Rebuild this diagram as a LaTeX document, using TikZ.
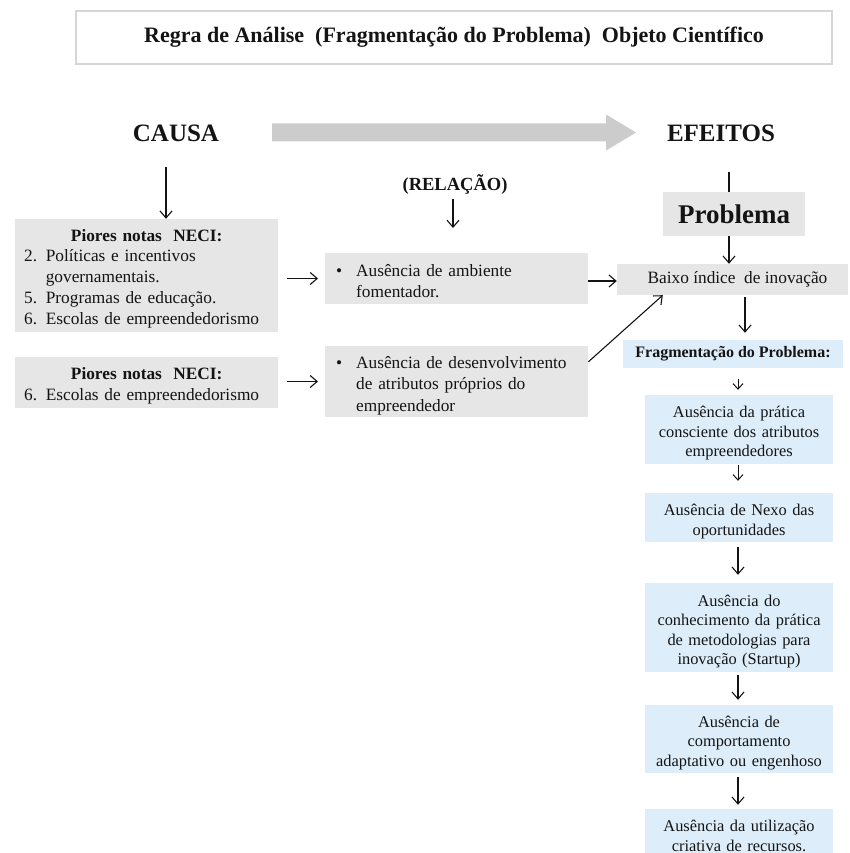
\documentclass[tikz,border=0pt]{standalone}
\usepackage{fontspec}
\setmainfont{Liberation Serif}
\usetikzlibrary{arrows.meta}

\definecolor{boxgray}{HTML}{E6E6E6}
\definecolor{boxblue}{HTML}{DDEEFA}
\definecolor{arrowgray}{HTML}{CCCCCC}
\definecolor{framegray}{HTML}{D6D6D6}
\definecolor{ink}{HTML}{141414}

\newcommand{\setfs}[2]{\fontsize{#1}{#2}\selectfont}

\begin{document}
\begin{tikzpicture}[x=1pt,y=-1pt,
  every node/.style={text=ink},
  arr/.style={draw=ink, line width=1.1pt, -{Straight Barb[length=7pt,width=12pt]}},
  smallarr/.style={draw=ink, line width=1pt, -{Straight Barb[length=5.5pt,width=10pt]}},
  plainline/.style={draw=ink, line width=1.1pt},
  bigarrow/.style={fill=arrowgray},
  titlebox/.style={draw=framegray, line width=1.3pt, fill=white, inner sep=0pt,
    minimum width=756pt, minimum height=53pt, font=\setfs{22}{26}\bfseries},
  heading/.style={font=\setfs{25}{30}\bfseries, inner sep=0pt},
  % the rule at the start of a node lowers its block of lines a little
  lift/.style={execute at begin node={\rule{0pt}{#1}}},
  causebox/.style={fill=boxgray, anchor=west, inner xsep=9pt, inner ysep=0pt,
    text width=245pt, align=left, font=\setfs{17.3}{20.7}, lift=18pt},
  relbox/.style={fill=boxgray, anchor=west, inner xsep=11pt, inner ysep=0pt,
    text width=241pt, align=left, font=\setfs{17.3}{21.5}},
  effectbox/.style={fill=boxgray, inner sep=0pt, align=center},
  stepbox/.style={fill=boxblue, inner xsep=1pt, inner ysep=0pt, text width=186pt,
    align=center, font=\setfs{16.4}{19.5}, lift=19pt},
]
\useasboundingbox (0,0) rectangle (850,853);
\fill[white] (0,0) rectangle (850,853);

% title
\node[titlebox] (title) at (454,37.5)
  {Regra de Análise\ \ (Fragmentação do Problema)\ \ Objeto Científico};

% column headings and the wide arrow between them
\node[heading] (causa) at (176,133) {CAUSA};
\node[heading] (efeitos) at (721,133) {EFEITOS};
\fill[bigarrow] (272,123.5) -- (606,123.5) -- (606,114.5) -- (636,132.5)
  -- (606,150.5) -- (606,141.5) -- (272,141.5) -- cycle;

% causes
\node[causebox, minimum height=113pt] (cause1) at (15,275.5)
  {\makebox[\linewidth]{\bfseries Piores notas\ \ NECI:}\\
   2. Políticas e incentivos\\
   \phantom{2. }governamentais.\\
   5. Programas de educação.\\
   6. Escolas de empreendedorismo};
\node[causebox, minimum height=51pt, lift=17pt] (cause2) at (15,382.5)
  {\makebox[\linewidth]{\bfseries Piores notas\ \ NECI:}\\
   6. Escolas de empreendedorismo};

% relation
\node[font=\setfs{18.5}{22}\bfseries, inner sep=0pt] (relacao) at (455,185) {(RELAÇÃO)};
\node[relbox, minimum height=51pt, lift=17pt] (rel1) at (325,278.5)
  {\makebox[20pt][l]{\textbullet}Ausência de ambiente\\
   \hspace*{20pt}fomentador.};
\node[relbox, minimum height=71pt, lift=20pt] (rel2) at (325,381.5)
  {\makebox[20pt][l]{\textbullet}Ausência de desenvolvimento\\
   \hspace*{20pt}de atributos próprios do\\
   \hspace*{20pt}empreendedor};

% effects
\node[effectbox, minimum width=142pt, minimum height=44pt, font=\setfs{27}{32}\bfseries]
  (problema) at (734,214) {Problema};
\node[effectbox, minimum width=231pt, minimum height=31pt, font=\setfs{17.3}{20.7}]
  (baixo) at (732.5,279.5) {\hspace*{10pt}Baixo índice\ \ de inovação};

% breakdown of the problem
\node[fill=boxblue, inner sep=0pt, minimum width=220pt, minimum height=28pt,
  font=\setfs{16}{19}\bfseries] (frag) at (733,354) {Fragmentação do Problema:};
\node[stepbox, minimum height=69pt] (stepA) at (739,429.5)
  {Ausência da prática\\ consciente dos atributos\\ empreendedores};
\node[stepbox, minimum height=49pt] (stepB) at (739,517.5)
  {Ausência de Nexo das\\ oportunidades};
\node[stepbox, minimum height=89pt] (stepC) at (739,627.5)
  {Ausência do\\ conhecimento da prática\\ de metodologias para\\ inovação (Startup)};
\node[stepbox, minimum height=68pt] (stepD) at (739,739)
  {Ausência de\\ comportamento\\ adaptativo ou engenhoso};
\node[stepbox, minimum height=44pt, lift=21pt] (stepE) at (739,831)
  {Ausência da utilização\\ criativa de recursos.};

% connectors: cause side
\coordinate (causefoot) at (166,167);
\draw[arr] (causefoot) -- (causefoot |- cause1.north);
\coordinate (relfoot) at (453,199);
\coordinate (reltip) at (453,228);
\draw[arr] (relfoot) -- (reltip);
\draw[arr] ([xshift=9pt]cause1.east |- rel1.west) -- ([xshift=-7pt]rel1.west);
\draw[arr] ([xshift=9pt]cause2.east |- rel2.west) -- ([xshift=-7pt]rel2.west);
\draw[arr] ([yshift=-2.5pt]rel1.east) -- ([yshift=-2.5pt]rel1.east -| baixo.west);
\draw[arr] ([yshift=-16pt]rel2.north east) -- ([xshift=46pt]baixo.south west);

% connectors: effect side
\coordinate (efeitosfoot) at (729,172);
\draw[plainline] (efeitosfoot) -- (efeitosfoot |- problema.north);
\draw[arr] ([xshift=-5pt]problema.south) -- ([xshift=-5pt]problema.south |- baixo.north);
\draw[arr] ([xshift=12.5pt,yshift=-2pt]baixo.south) -- ([xshift=12pt,yshift=7pt]frag.north);
\draw[smallarr] ([xshift=5pt,yshift=-11pt]frag.south) -- ([xshift=-1pt,yshift=5pt]stepA.north);
\draw[smallarr] ([xshift=-1pt,yshift=-1pt]stepA.south) -- ([xshift=-1pt,yshift=12pt]stepB.north);
\draw[arr] ([xshift=-1pt,yshift=-5pt]stepB.south) -- ([xshift=-1pt,yshift=8pt]stepC.north);
\draw[arr] ([xshift=-1pt,yshift=-3pt]stepC.south) -- ([xshift=-1pt,yshift=5pt]stepD.north);
\draw[arr] ([xshift=-1pt,yshift=-4pt]stepD.south) -- ([xshift=-1pt,yshift=4pt]stepE.north);
\end{tikzpicture}
\end{document}
